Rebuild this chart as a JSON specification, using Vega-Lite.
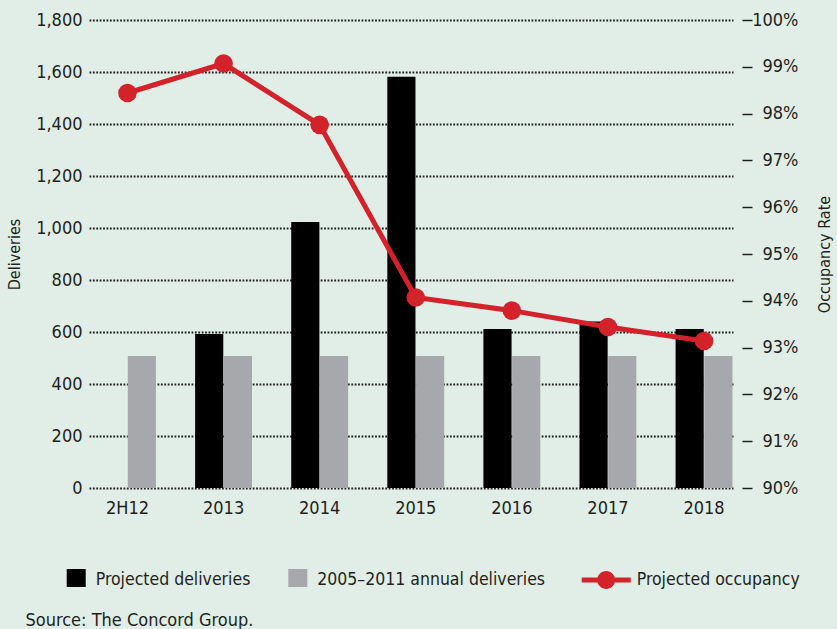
{
  "$schema": "https://vega.github.io/schema/vega-lite/v6.json",
  "width": 644,
  "height": 468,
  "autosize": {"type": "none"},
  "padding": {"left": 89, "top": 20, "right": 104, "bottom": 141},
  "background": "#e0eee7",
  "config": {
    "font": "DejaVu Sans Condensed, Liberation Sans Narrow, sans-serif",
    "view": {"stroke": null},
    "axis": {
      "labelFont": "DejaVu Sans Condensed, Liberation Sans Narrow, sans-serif",
      "titleFont": "DejaVu Sans Condensed, Liberation Sans Narrow, sans-serif",
      "labelFontSize": 18,
      "labelColor": "#231f20",
      "titleColor": "#231f20",
      "titleFontWeight": "normal",
      "domain": false
    },
    "legend": {
      "orient": "none",
      "title": null,
      "labelFont": "DejaVu Sans Condensed, Liberation Sans Narrow, sans-serif",
      "labelFontSize": 17.5,
      "labelColor": "#231f20",
      "labelLimit": 500,
      "symbolSize": 2401,
      "labelOffset": 6,
      "padding": 0,
      "symbolStrokeWidth": 0,
      "direction": "vertical"
    }
  },
  "data": {
    "values": [
      {"year": "2013", "series": "Projected deliveries", "value": 592},
      {"year": "2014", "series": "Projected deliveries", "value": 1023},
      {"year": "2015", "series": "Projected deliveries", "value": 1582},
      {"year": "2016", "series": "Projected deliveries", "value": 612},
      {"year": "2017", "series": "Projected deliveries", "value": 640},
      {"year": "2018", "series": "Projected deliveries", "value": 612},
      {"year": "2H12", "series": "2005–2011 annual deliveries", "value": 508},
      {"year": "2013", "series": "2005–2011 annual deliveries", "value": 508},
      {"year": "2014", "series": "2005–2011 annual deliveries", "value": 508},
      {"year": "2015", "series": "2005–2011 annual deliveries", "value": 508},
      {"year": "2016", "series": "2005–2011 annual deliveries", "value": 508},
      {"year": "2017", "series": "2005–2011 annual deliveries", "value": 508},
      {"year": "2018", "series": "2005–2011 annual deliveries", "value": 508},
      {"year": "2H12", "series": "Projected occupancy", "value": 98.44},
      {"year": "2013", "series": "Projected occupancy", "value": 99.07},
      {"year": "2014", "series": "Projected occupancy", "value": 97.76},
      {"year": "2015", "series": "Projected occupancy", "value": 94.07},
      {"year": "2016", "series": "Projected occupancy", "value": 93.79},
      {"year": "2017", "series": "Projected occupancy", "value": 93.44},
      {"year": "2018", "series": "Projected occupancy", "value": 93.14}
    ]
  },
  "encoding": {
    "x": {
      "field": "year",
      "type": "nominal",
      "sort": ["2H12", "2013", "2014", "2015", "2016", "2017", "2018"],
      "scale": {"paddingInner": 0.408, "paddingOuter": 0.055, "align": 0.95},
      "axis": {
        "title": "Source: The Concord Group.",
        "titleX": -64,
        "titleY": 137,
        "titleAlign": "left",
        "titleBaseline": "alphabetic",
        "titleFontSize": 18,
        "labelAngle": 0,
        "ticks": false,
        "tickSize": 0,
        "labelPadding": 11,
        "grid": false
      }
    }
  },
  "layer": [
    {
      "layer": [
        {
          "transform": [{"filter": "datum.series === 'Projected deliveries'"}],
          "mark": {"type": "bar"},
          "encoding": {
            "xOffset": {
              "field": "series",
              "type": "nominal",
              "scale": {"domain": ["Projected deliveries", "2005–2011 annual deliveries"], "paddingInner": 0.02}
            },
            "y": {
              "field": "value",
              "type": "quantitative",
              "scale": {"domain": [0, 1800], "nice": false, "zero": true},
              "axis": {
                "orient": "left",
                "title": "Deliveries",
                "titleFontSize": 16,
                "titlePadding": 13,
                "values": [0, 200, 400, 600, 800, 1000, 1200, 1400, 1600, 1800],
                "format": ",d",
                "grid": true,
                "gridDash": [1.8, 1.6],
                "gridColor": "#231f20",
                "gridWidth": 1.8,
                "ticks": false,
                "tickSize": 0,
                "labelPadding": 7
              }
            },
            "color": {
              "field": "series",
              "type": "nominal",
              "scale": {"range": ["#000000"]},
              "legend": {
                "legendX": -48.3,
                "legendY": 535.5,
                "symbolType": "M0.061,-0.449 L0.837,-0.449 L0.837,0.286 L0.061,0.286 Z"
              }
            }
          }
        },
        {
          "transform": [{"filter": "datum.series === '2005–2011 annual deliveries'"}],
          "mark": {"type": "bar"},
          "encoding": {
            "xOffset": {
              "field": "series",
              "type": "nominal",
              "scale": {"domain": ["Projected deliveries", "2005–2011 annual deliveries"], "paddingInner": 0.02}
            },
            "y": {
              "field": "value",
              "type": "quantitative",
              "scale": {"domain": [0, 1800], "nice": false, "zero": true},
              "axis": {
                "orient": "left",
                "title": "Deliveries",
                "titleFontSize": 16,
                "titlePadding": 13,
                "values": [0, 200, 400, 600, 800, 1000, 1200, 1400, 1600, 1800],
                "format": ",d",
                "grid": true,
                "gridDash": [1.8, 1.6],
                "gridColor": "#231f20",
                "gridWidth": 1.8,
                "ticks": false,
                "tickSize": 0,
                "labelPadding": 7
              }
            },
            "color": {
              "field": "series",
              "type": "nominal",
              "scale": {"range": ["#a7a8ab"]},
              "legend": {
                "legendX": 173.3,
                "legendY": 535.5,
                "symbolType": "M0.061,-0.449 L0.837,-0.449 L0.837,0.286 L0.061,0.286 Z"
              }
            }
          }
        }
      ],
      "resolve": {"scale": {"color": "independent"}}
    },
    {
      "transform": [{"filter": "datum.series === 'Projected occupancy'"}],
      "encoding": {
        "y": {
          "field": "value",
          "type": "quantitative",
          "scale": {"domain": [90, 100], "nice": false, "zero": false},
          "axis": {
            "orient": "right",
            "title": "Occupancy Rate",
            "titleFontSize": 16,
            "titleAngle": 270,
            "titlePadding": 34,
            "values": [90, 91, 92, 93, 94, 95, 96, 97, 98, 99, 100],
            "labelExpr": "datum.value + '%'",
            "offset": 9,
            "grid": false,
            "ticks": true,
            "tickSize": 10,
            "tickWidth": 1.5,
            "tickColor": "#231f20",
            "labelAlign": "right",
            "labelPadding": 46
          }
        }
      },
      "layer": [
        {
          "mark": {"type": "line", "color": "#d3222a", "strokeWidth": 5}
        },
        {
          "mark": {"type": "point", "filled": true, "size": 346, "opacity": 1, "shape": "circle"},
          "encoding": {
            "color": {
              "field": "series",
              "type": "nominal",
              "scale": {"range": ["#d3222a"]},
              "legend": {
                "legendX": 492.7,
                "legendY": 535.5,
                "symbolType": "M-1,-0.1 L1,-0.1 L1,0.1 L-1,0.1 Z M-0.367,0 A0.367,0.367 0 1,1 0.367,0 A0.367,0.367 0 1,1 -0.367,0 Z"
              }
            }
          }
        }
      ]
    }
  ],
  "resolve": {"scale": {"y": "independent", "color": "independent"}}
}
